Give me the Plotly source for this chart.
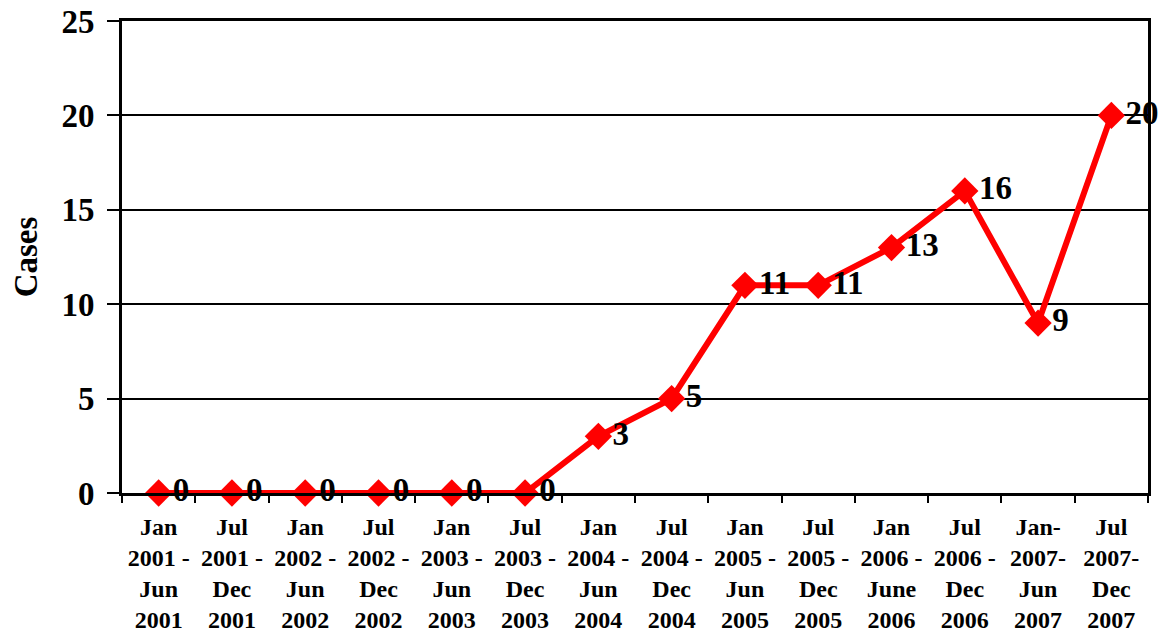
import plotly.graph_objects as go

categories = [
    "Jan<br>2001 -<br>Jun<br>2001",
    "Jul<br>2001 -<br>Dec<br>2001",
    "Jan<br>2002 -<br>Jun<br>2002",
    "Jul<br>2002 -<br>Dec<br>2002",
    "Jan<br>2003 -<br>Jun<br>2003",
    "Jul<br>2003 -<br>Dec<br>2003",
    "Jan<br>2004 -<br>Jun<br>2004",
    "Jul<br>2004 -<br>Dec<br>2004",
    "Jan<br>2005 -<br>Jun<br>2005",
    "Jul<br>2005 -<br>Dec<br>2005",
    "Jan<br>2006 -<br>June<br>2006",
    "Jul<br>2006 -<br>Dec<br>2006",
    "Jan-<br>2007-<br>Jun<br>2007",
    "Jul<br>2007-<br>Dec<br>2007",
]
cases = [0, 0, 0, 0, 0, 0, 3, 5, 11, 11, 13, 16, 9, 20]
y_ticks = [0, 5, 10, 15, 20, 25]

FONT = "Liberation Serif"

fig = go.Figure()
fig.add_trace(go.Scatter(
    x=categories, y=cases,
    mode="lines+markers+text",
    line=dict(color="#ff0000", width=6),
    marker=dict(symbol="diamond", size=21, color="#ff0000"),
    text=[str(v) for v in cases],
    textposition="middle right",
    textfont=dict(family=FONT, size=33, color="black", weight="bold"),
    cliponaxis=False,
    showlegend=False,
))

fig.update_layout(
    width=1168, height=635,
    margin=dict(l=122, r=20, t=21, b=142, autoexpand=False),
    paper_bgcolor="white", plot_bgcolor="white",
    font=dict(family=FONT, color="black"),
    xaxis=dict(
        type="category", automargin=False,
        showline=True, linecolor="black", linewidth=3, mirror=True,
        ticks="outside", tickson="boundaries", ticklen=7, tickwidth=2, tickcolor="black",
        tickfont=dict(family=FONT, size=24, color="black", weight="bold"),
        ticklabelstandoff=10,
        showgrid=False,
        range=[-0.5, len(categories) - 0.5],
    ),
    yaxis=dict(
        range=[0, 25], tickvals=y_ticks, automargin=False,
        showline=True, linecolor="black", linewidth=3, mirror=True,
        ticks="outside", ticklen=12, tickwidth=2, tickcolor="black",
        tickfont=dict(family=FONT, size=33, color="black", weight="bold"),
        ticklabelstandoff=6,
        showgrid=True, gridcolor="black", gridwidth=2,
        zeroline=False,
        title=dict(text="Cases", font=dict(family=FONT, size=33, color="black", weight="bold"), standoff=14),
    ),
)

fig.write_html("out.html")
